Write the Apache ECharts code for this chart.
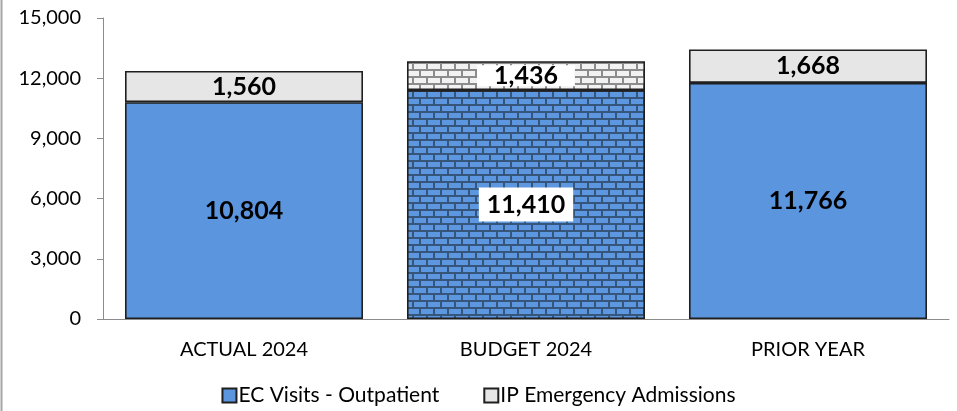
<!DOCTYPE html>
<html><head><meta charset="utf-8">
<script src="https://cdn.jsdelivr.net/npm/echarts@6/dist/echarts.min.js"></script>
<style>html,body{margin:0;padding:0;background:#fff}#c{width:957px;height:411px}</style>
</head><body><div id="c"></div>
<script>
const categories = ['ACTUAL 2024', 'BUDGET 2024', 'PRIOR YEAR'];
const ecVisits = [10804, 11410, 11766];
const ipAdmissions = [1560, 1436, 1668];
const seriesNames = ['EC Visits - Outpatient', 'IP Emergency Admissions'];
const patternIndex = 1;

function brick(fill, mortar) {
  const c = document.createElement('canvas');
  c.width = 14; c.height = 14;
  const g = c.getContext('2d');
  g.fillStyle = mortar; g.fillRect(0, 0, 14, 14);
  g.fillStyle = fill;
  g.fillRect(1, 1, 12, 5);
  g.fillRect(8, 8, 12, 5);
  g.fillRect(-6, 8, 12, 5);
  return c;
}
const blueBrick = {image: brick('#5d97df', '#35557a'), repeat: 'repeat'};
const grayBrick = {image: brick('#f2f2f2', '#8c8c8c'), repeat: 'repeat'};

const font = 'Lato, "Open Sans", sans-serif';
function mk(vals, pat, lbl) {
  return vals.map((v, i) => {
    const d = {value: v};
    if (i === patternIndex) {
      d.itemStyle = {color: pat};
      d.label = Object.assign({backgroundColor: '#fff'}, lbl);
    }
    return d;
  });
}
const labelBase = {show: true, position: 'inside', color: '#000', fontSize: 25, fontWeight: 'bold', fontFamily: font,
  formatter: p => p.value.toLocaleString('en-US')};

const chart = echarts.init(document.getElementById('c'), null, {renderer: 'canvas'});
chart.setOption({
  animation: false,
  grid: {left: 103, right: 8, top: 18, bottom: 92},
  graphic: [{type: 'line', shape: {x1: 1.5, y1: 0, x2: 1.5, y2: 411}, style: {stroke: '#a6a6a6', lineWidth: 2}}],
  legend: {
    bottom: 0, left: 'center', itemGap: 44, itemWidth: 14, itemHeight: 14, icon: 'rect',
    textStyle: {fontFamily: font, fontSize: 21, color: '#000', padding: [0, 0, 0, -3]},
    data: seriesNames
  },
  xAxis: {
    type: 'category', data: categories,
    axisLine: {lineStyle: {color: '#8c8c8c', width: 1}},
    axisTick: {show: false},
    axisLabel: {fontFamily: font, fontSize: 20, color: '#000', margin: 21}
  },
  yAxis: {
    type: 'value', min: 0, max: 15000, interval: 3000,
    axisLine: {show: true, lineStyle: {color: '#8c8c8c'}},
    axisTick: {show: true, length: 6, lineStyle: {color: '#8c8c8c'}},
    splitLine: {show: false},
    axisLabel: {fontFamily: font, fontSize: 20, color: '#000', margin: 22,
      formatter: v => v.toLocaleString('en-US')}
  },
  series: [
    {name: seriesNames[0], type: 'bar', stack: 's', barCategoryGap: '15.6%',
     data: mk(ecVisits, blueBrick, {padding: [3, 8, 1, 8], lineHeight: 30}),
     itemStyle: {color: '#5b95de', borderColor: '#1f1f1f', borderWidth: 1.6},
     label: labelBase},
    {name: seriesNames[1], type: 'bar', stack: 's',
     data: mk(ipAdmissions, grayBrick, {padding: [1, 17, 0, 17], lineHeight: 20}),
     itemStyle: {color: '#e6e6e6', borderColor: '#1f1f1f', borderWidth: 1.6},
     label: labelBase}
  ]
});
</script></body></html>
